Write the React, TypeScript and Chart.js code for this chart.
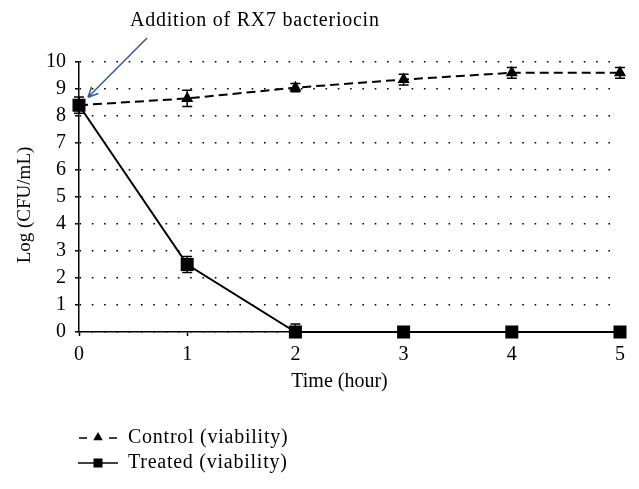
import React, { useEffect, useRef } from "react";
import { Chart, registerables } from "chart.js";

Chart.register(...registerables);

const hours = [0, 1, 2, 3, 4, 5];
const controlValues = [8.4, 8.65, 9.05, 9.35, 9.6, 9.6];
const controlErrors = [0.2, 0.3, 0.15, 0.2, 0.2, 0.2];
const treatedValues = [8.4, 2.5, 0, 0, 0, 0];
const treatedErrors = [0.3, 0.3, 0.3, 0, 0, 0];
const yTicks = [0, 1, 2, 3, 4, 5, 6, 7, 8, 9, 10];
const seriesLabels = ["Control (viability)", "Treated (viability)"];
const annotationText = "Addition of RX7 bacteriocin";
const xTitle = "Time (hour)";
const yTitle = "Log (CFU/mL)";

const FONT = "'Liberation Serif', 'DejaVu Serif', serif";
const errorsByDataset = [controlErrors, treatedErrors];

const errorBarPlugin = {
  id: "errorBars",
  beforeDatasetsDraw(chart: any) {
    const ctx = chart.ctx;
    const ys = chart.scales.y;
    ctx.save();
    ctx.strokeStyle = "#000";
    ctx.lineWidth = 1.5;
    chart.data.datasets.forEach((ds: any, di: number) => {
      const meta = chart.getDatasetMeta(di);
      const errs = errorsByDataset[di];
      meta.data.forEach((pt: any, i: number) => {
        const e = errs[i];
        if (!e) return;
        const v = ds.data[i].y;
        const x = pt.x;
        const yTop = ys.getPixelForValue(v + e);
        const yBot = ys.getPixelForValue(Math.max(0, v - e));
        ctx.beginPath();
        ctx.moveTo(x, yTop);
        ctx.lineTo(x, yBot);
        ctx.moveTo(x - 5, yTop);
        ctx.lineTo(x + 5, yTop);
        if (v - e >= 0) {
          ctx.moveTo(x - 5, yBot);
          ctx.lineTo(x + 5, yBot);
        }
        ctx.stroke();
      });
    });
    ctx.restore();
  },
};

function drawTriangle(ctx: CanvasRenderingContext2D, x: number, y: number, r: number) {
  ctx.beginPath();
  ctx.moveTo(x, y - r);
  ctx.lineTo(x + r * 0.866, y + r * 0.5);
  ctx.lineTo(x - r * 0.866, y + r * 0.5);
  ctx.closePath();
  ctx.fill();
}

const annotationPlugin = {
  id: "annotationsLegend",
  afterDraw(chart: any) {
    const ctx = chart.ctx;
    const xs = chart.scales.x;
    const ys = chart.scales.y;
    const area = chart.chartArea;
    ctx.save();
    ctx.fillStyle = "#000";
    ctx.textBaseline = "middle";

    // axis titles
    ctx.font = `20px ${FONT}`;
    ctx.textAlign = "center";
    ctx.fillText(xTitle, (area.left + area.right) / 2 - 10, 382);
    ctx.save();
    ctx.translate(25, (area.top + area.bottom) / 2 + 8);
    ctx.rotate(-Math.PI / 2);
    ctx.font = `19px ${FONT}`;
    ctx.fillText(yTitle, 0, 0);
    ctx.restore();

    // annotation text
    ctx.textAlign = "left";
    ctx.font = `20px ${FONT}`;
    (ctx as any).letterSpacing = "0.75px";
    ctx.fillText(annotationText, 130, 21);
    // arrow
    const tipX = xs.getPixelForValue(hours[0]) + 9;
    const tipY = ys.getPixelForValue(controlValues[0]) - 8;
    const sx = 147;
    const sy = 38;
    ctx.strokeStyle = "#2f5c9c";
    ctx.lineWidth = 1.5;
    ctx.beginPath();
    ctx.moveTo(sx, sy);
    ctx.lineTo(tipX, tipY);
    const ang = Math.atan2(tipY - sy, tipX - sx);
    const hl = 11;
    ctx.moveTo(tipX, tipY);
    ctx.lineTo(tipX - hl * Math.cos(ang - 0.45), tipY - hl * Math.sin(ang - 0.45));
    ctx.moveTo(tipX, tipY);
    ctx.lineTo(tipX - hl * Math.cos(ang + 0.45), tipY - hl * Math.sin(ang + 0.45));
    ctx.stroke();

    // legend
    const rows = [438, 463];
    ctx.strokeStyle = "#000";
    ctx.fillStyle = "#000";
    ctx.lineWidth = 1.5;
    ctx.beginPath();
    ctx.moveTo(79, rows[0]);
    ctx.lineTo(87, rows[0]);
    ctx.moveTo(109, rows[0]);
    ctx.lineTo(117, rows[0]);
    ctx.stroke();
    drawTriangle(ctx, 98, rows[0] - 0.5, 5.5);
    ctx.beginPath();
    ctx.moveTo(78, rows[1]);
    ctx.lineTo(118, rows[1]);
    ctx.stroke();
    ctx.fillRect(93.5, rows[1] - 4.5, 9, 9);
    ctx.font = `20px ${FONT}`;
    ctx.fillText(seriesLabels[0], 128, rows[0]);
    ctx.fillText(seriesLabels[1], 128, rows[1]);
    (ctx as any).letterSpacing = "0px";
    ctx.restore();
  },
};

export default function App() {
  const ref = useRef<HTMLCanvasElement | null>(null);
  useEffect(() => {
    if (!ref.current) return;
    const chart = new Chart(ref.current, {
      type: "line",
      data: {
        datasets: [
          {
            label: seriesLabels[0],
            data: hours.map((h, i) => ({ x: h, y: controlValues[i] })),
            borderColor: "#000",
            backgroundColor: "#000",
            borderWidth: 2,
            borderDash: [9, 5],
            pointStyle: "triangle",
            pointRadius: 7,
            pointBorderWidth: 0,
            clip: false,
          },
          {
            label: seriesLabels[1],
            data: hours.map((h, i) => ({ x: h, y: treatedValues[i] })),
            borderColor: "#000",
            backgroundColor: "#000",
            borderWidth: 2,
            pointStyle: "rect",
            pointRadius: 9.2,
            pointBorderWidth: 0,
            clip: false,
          },
        ],
      },
      options: {
        animation: false,
        responsive: false,
        devicePixelRatio: 1,
        layout: { padding: { top: 62, right: 19, left: 0, bottom: 0 } },
        plugins: { legend: { display: false }, tooltip: { enabled: false }, title: { display: false } },
        scales: {
          x: {
            type: "linear",
            min: 0,
            max: 5,
            afterFit: (s: any) => {
              s.height = 157;
            },
            afterBuildTicks: (s: any) => {
              s.ticks = hours.map((v) => ({ value: v }));
            },
            ticks: { color: "#000", font: { family: FONT, size: 20 }, padding: 7 },
            grid: { drawOnChartArea: false, drawTicks: true, tickLength: 4, tickColor: "#000", tickWidth: 1.5 },
            border: { display: true, color: "#000", width: 1.5 },
            title: { display: false },
          },
          y: {
            type: "linear",
            min: 0,
            max: 10,
            afterFit: (s: any) => {
              s.width = 79;
            },
            afterBuildTicks: (s: any) => {
              s.ticks = yTicks.map((v) => ({ value: v }));
            },
            ticks: { color: "#000", font: { family: FONT, size: 20 }, padding: 9 },
            grid: {
              color: "#000",
              lineWidth: 1.6,
              drawTicks: true,
              tickLength: 4,
              tickColor: "#000",
              tickWidth: 1.5,
              tickBorderDash: [],
            },
            border: { display: true, color: "#000", width: 1.5, dash: [1.6, 10.7] },
            title: { display: false },
          },
        },
      },
      plugins: [errorBarPlugin, annotationPlugin],
    } as any);
    return () => chart.destroy();
  }, []);
  return (
    <div style={{ position: "absolute", left: 0, top: 0, width: 639, height: 489, background: "#fff" }}>
      <canvas ref={ref} width={639} height={489} />
    </div>
  );
}
